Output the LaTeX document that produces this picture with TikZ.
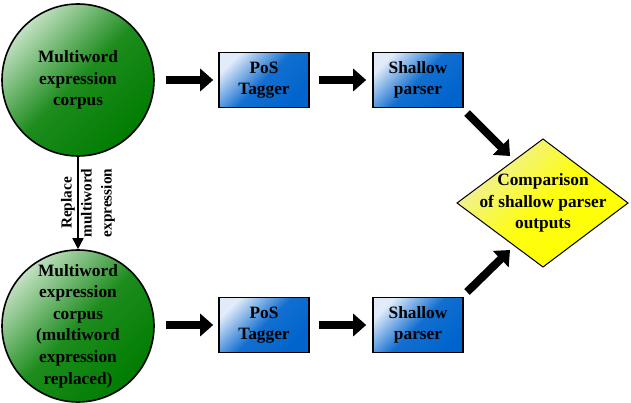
\documentclass[tikz,border=0pt]{standalone}
\usepackage{fontspec}
\setmainfont{Liberation Serif}
\usetikzlibrary{arrows.meta}
\definecolor{gdark}{RGB}{0,125,0}
\definecolor{glight}{RGB}{195,225,195}
\definecolor{bdark}{RGB}{0,100,205}
\definecolor{blight}{RGB}{225,235,250}
\definecolor{ydark}{RGB}{255,255,0}
\definecolor{ylight}{RGB}{238,238,170}
\tikzset{
  x=1pt, y=-1pt,
  lbl/.style={font=\fontsize{17.3}{21.6}\selectfont\bfseries, align=center, text=black},
  corpus/.style={circle, draw=black, line width=1.6pt, minimum size=152pt, inner sep=0pt,
     top color=glight, bottom color=gdark, middle color=gdark!85!glight, shading angle=45, lbl},
  procbox/.style={rectangle, draw=black, line width=1.6pt, minimum width=90pt, minimum height=55pt, inner sep=0pt,
     top color=blight, bottom color=bdark, middle color=bdark!92!blight, shading angle=45, lbl},
  bigarrow/.style={line width=8pt, black, -{Triangle[length=13pt,width=22pt]}},
  thinarrow/.style={line width=1.5pt, black, -{Triangle[length=11pt,width=11pt]}},
}
\begin{document}
\begin{tikzpicture}
\useasboundingbox (0,0) rectangle (631,403);
\node[corpus] (c1) at (78,80) {Multiword\\expression\\corpus};
\node[corpus] (c2) at (78,326) {Multiword\\expression\\corpus\\(multiword\\expression\\replaced)};
\node[procbox] (p1) at (264,80) {PoS\\Tagger};
\node[procbox] (s1) at (418,80) {Shallow\\parser};
\node[procbox] (p2) at (264,325) {PoS\\Tagger};
\node[procbox] (s2) at (418,325) {Shallow\\parser};
% diamond
\coordinate (dt) at (543,139);
\coordinate (dr) at (628,203);
\coordinate (db) at (543,267);
\coordinate (dl) at (457,203);
\shade[draw=black, line width=1pt, top color=ylight, bottom color=ydark, middle color=ydark!90!ylight, shading angle=45]
  (dt) -- (dr) -- (db) -- (dl) -- cycle;
\node[lbl] (dia) at (543,203) {Comparison\\of shallow parser\\outputs};
% arrows
\draw[bigarrow, shorten <=11pt, shorten >=5pt] (c1) -- (p1);
\draw[bigarrow, shorten <=9pt, shorten >=6pt] (p1) -- (s1);
\draw[bigarrow, shorten <=11pt, shorten >=5pt] (c2.east |- p2) -- (p2);
\draw[bigarrow, shorten <=9pt, shorten >=6pt] (p2) -- (s2);
\coordinate (a1s) at (467,113);
\coordinate (a1e) at (510,156);
\coordinate (a2s) at (467,292);
\coordinate (a2e) at (510,250);
\draw[bigarrow] (a1s) -- (a1e);
\draw[bigarrow] (a2s) -- (a2e);
\draw[thinarrow] (c1.south) -- (c2.north)
  node[midway, lbl, font=\fontsize{15.3}{20}\selectfont\bfseries, rotate=90, yshift=-10pt] (rl) {Replace\\multiword\\expression};
\end{tikzpicture}
\end{document}
